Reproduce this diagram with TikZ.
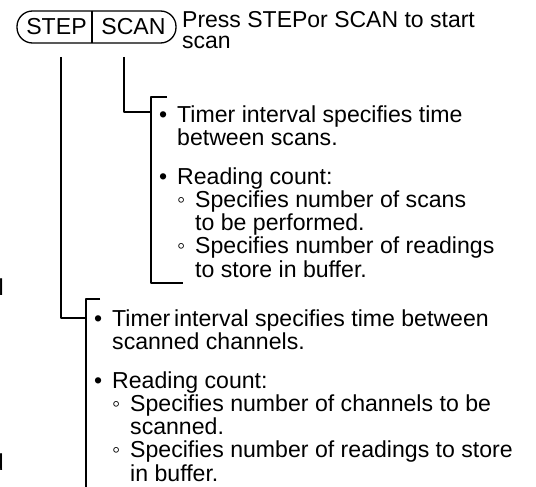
\documentclass[tikz,border=0pt]{standalone}
\usepackage{fontspec}
\setmainfont{Liberation Sans}
\usepackage{tikz}

\tikzset{
  txt/.style={inner sep=0pt, font=\fontsize{23.1}{21.5}\selectfont},
  wire/.style={line width=1.3pt}
}
\newcommand{\lines}[1]{\begin{tabular}[t]{@{}l@{}}#1\end{tabular}}
\newcommand{\bul}{\makebox[18pt][l]{•}}
\newcommand{\subbul}{\hspace{18pt}\makebox[18pt][l]{◦}}
\newcommand{\ind}{\hspace{18pt}}
\newcommand{\indd}{\hspace{36pt}}

\begin{document}
\begin{tikzpicture}[x=1pt, y=-1pt, line join=round, line cap=butt]
\useasboundingbox (0,0) rectangle (536,487);
% key
\draw[wire, rounded corners=15.5pt] (17,11) rectangle (176,43);
\draw[wire] (92,11) -- (92,43);
\node[txt, anchor=base] (step) at (56.5,35) {STEP};
\node[txt, anchor=base] (scan) at (133.5,35) {SCAN};
\node[txt, anchor=base west, font=\fontsize{23}{21}\selectfont] (hint) at (182,28) {\lines{Press STEPor SCAN to start\\scan}};
% corners
\coordinate (A) at (61,57);
\coordinate (B) at (61,318);
\coordinate (C) at (86,318);
\coordinate (D) at (124,57);
\coordinate (E) at (124,112);
\coordinate (F) at (151,112);
\draw[wire] (A) -- (B) -- (C);
\draw[wire] (D) -- (E) -- (F);
\draw[wire] (167,97) -- (151,97) -- (151,283) -- (183,283);
\draw[wire] (100,299) -- (86,299) -- (86,490);
% text
\node[txt, anchor=base west] (scaninfo) at (159,122) {\lines{%
\bul Timer interval specifies time\\
\ind between scans.\\[16pt]
\bul Reading count:\\
\subbul Specifies number of scans\\
\indd to be performed.\\
\subbul Specifies number of readings\\
\indd to store in buffer.}};
\node[txt, anchor=base west] (stepinfo) at (94,326) {\lines{%
\bul Timer\,interval specifies time between\\
\ind scanned channels.\\[16pt]
\bul Reading count:\\
\subbul Specifies number of channels to be\\
\indd scanned.\\
\subbul Specifies number of readings to store\\
\indd in buffer.}};
\node[txt, anchor=base east] (l) at (4,295) {l};
\node[txt, anchor=base east] (d) at (4,470) {d};
\end{tikzpicture}
\end{document}
